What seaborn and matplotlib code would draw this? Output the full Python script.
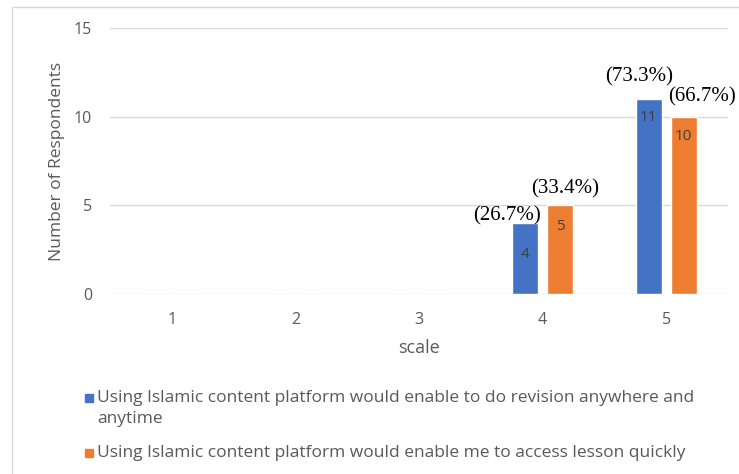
import pandas as pd
import seaborn as sns
import matplotlib.pyplot as plt
from matplotlib.patches import Rectangle

scale = [1, 2, 3, 4, 5]
revision = [0, 0, 0, 4, 11]
access = [0, 0, 0, 5, 10]
revision_pct = ['', '', '', '(26.7%)', '(73.3%)']
access_pct = ['', '', '', '(33.4%)', '(66.7%)']
labels = ['Using Islamic content platform would enable to do revision anywhere and\nanytime',
          'Using Islamic content platform would enable me to access lesson quickly']
colors = ['#4472C4', '#ED7D31']

df = pd.DataFrame({
    'scale': scale * 2,
    'count': revision + access,
    'statement': [labels[0]] * 5 + [labels[1]] * 5,
})

sns.set_theme(style='white')
plt.rcParams['font.family'] = ['Open Sans', 'DejaVu Sans']

fig = plt.figure(figsize=(7.39, 4.74), dpi=100)
ax = fig.add_axes([110 / 739, 1 - 294 / 474, 618 / 739, 266 / 474])

sns.barplot(data=df, x='scale', y='count', hue='statement', palette=colors,
            saturation=1, width=0.566, gap=0.26, legend=False, ax=ax)

ax.set_ylim(0, 15)
ax.set_yticks([0, 5, 10, 15])
ax.yaxis.grid(True, color='#d9d9d9', linewidth=1)
ax.set_axisbelow(True)
for s in ax.spines.values():
    s.set_visible(False)
ax.tick_params(axis='both', length=0, labelsize=11.5, labelcolor='#595959')
ax.tick_params(axis='x', pad=13)
ax.tick_params(axis='y', pad=13)
ax.set_xlabel('scale', fontsize=13, color='#595959', labelpad=8)
ax.set_ylabel('Number of Respondents', fontsize=12.5, color='#595959', labelpad=6)

# value labels inside bars and percentage labels above
pct_offsets = [
    [None, None, None, (-18, 7), (-10, 22)],
    [None, None, None, (5, 16), (18, 20)],
]
val_offsets = [[0, 0, 0, -31, -19], [0, 0, 0, -21, -20]]
pcts = [revision_pct, access_pct]
for i, cont in enumerate(ax.containers):
    for j, bar in enumerate(cont):
        h = bar.get_height()
        if h == 0:
            continue
        cx = bar.get_x() + bar.get_width() / 2
        ax.annotate(f'{int(h)}', (cx, h), xytext=(0, val_offsets[i][j]),
                    textcoords='offset pixels', ha='center', va='center',
                    fontsize=11, color='#404040')
        dx, dy = pct_offsets[i][j]
        ax.annotate(pcts[i][j], (cx, h), xytext=(dx, dy),
                    textcoords='offset pixels', ha='center', va='center',
                    fontsize=15, family='Liberation Serif', color='black')

# legend below the plot
leg_y = [398, 453]
for k in range(2):
    fig.patches.append(Rectangle((85 / 739, 1 - (leg_y[k] + 4) / 474), 8 / 739, 8 / 474,
                                 transform=fig.transFigure, color=colors[k]))
    fig.text(97 / 739, 1 - (leg_y[k] - 8) / 474 if k == 0 else 1 - leg_y[k] / 474,
             labels[k], fontsize=12.5, color='#595959',
             ha='left', va='top' if k == 0 else 'center', linespacing=1.45)

fig.patches.append(Rectangle((12 / 739, -0.1), 1.2, 1 - 7 / 474 + 0.1,
                             transform=fig.transFigure, fill=False,
                             edgecolor='#d9d9d9', linewidth=1))

fig.savefig('out.png', dpi=100)
